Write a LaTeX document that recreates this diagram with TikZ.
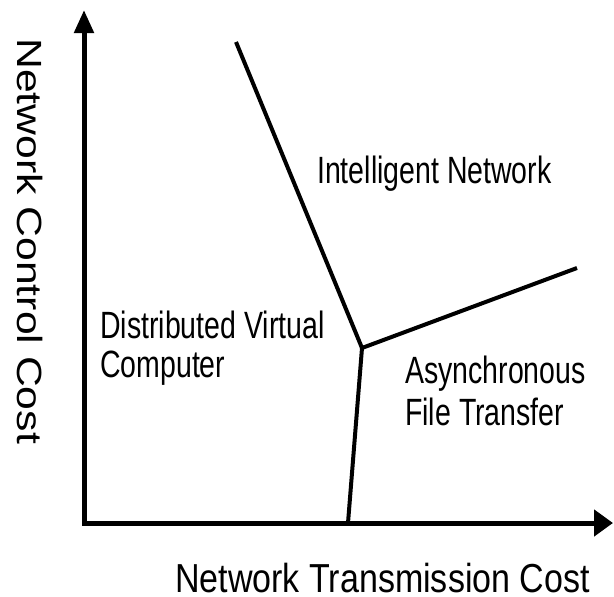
\documentclass[tikz,border=0pt]{standalone}
\usepackage{fontspec}
\setmainfont{Liberation Sans}
\newfontfamily\regionfont[FakeStretch=0.75]{Liberation Sans}
\newfontfamily\xaxisfont[FakeStretch=0.84]{Liberation Sans}
\newfontfamily\yaxisfont[FakeStretch=1.22]{Liberation Sans}
\usetikzlibrary{arrows.meta}

\begin{document}
\begin{tikzpicture}[x=1pt, y=-1pt,
  axis/.style={draw=black, line width=5pt,
               {Triangle[length=23pt, width=19pt]}-{Triangle[length=19pt, width=26pt]}},
  border/.style={draw=black, line width=4pt},
  region/.style={anchor=base west, inner sep=0pt, align=left},
  axislabel/.style={anchor=base west, inner sep=0pt}]

  \useasboundingbox (0,0) rectangle (614,597);

  % ---- Axes ----
  \coordinate (origin) at (84,523);
  \coordinate (ytip)   at (84,10);
  \coordinate (xtip)   at (613,523);
  \draw[axis] (ytip) -- (origin) -- (xtip);

  % ---- Region borders ----
  \coordinate (hub)      at (362,348);
  \coordinate (topend)   at (236,42);
  \coordinate (rightend) at (577,268);
  \coordinate (footend)  at (348,523);
  \draw[border] (topend) -- (hub) -- (rightend);
  \draw[border] (hub) -- (footend);

  % ---- Regions ----
  \node[region, font=\regionfont\fontsize{38}{40}\selectfont] (intel) at (317,183)
    {Intelligent Network};
  \node[region, font=\regionfont\fontsize{38}{39}\selectfont] (distrib) at (100,377)
    {Distributed Virtual\\Computer};
  \node[region, font=\regionfont\fontsize{38}{42}\selectfont] (async) at (405,425)
    {Asynchronous\\File Transfer};

  % ---- Axis labels ----
  \node[axislabel, font=\xaxisfont\fontsize{40.5}{44}\selectfont] (xlabel) at (175,592)
    {Network Transmission Cost};
  \node[axislabel, rotate=-90, font=\yaxisfont\fontsize{35}{38}\selectfont] (ylabel) at (17,38)
    {Network Control Cost};

\end{tikzpicture}
\end{document}
